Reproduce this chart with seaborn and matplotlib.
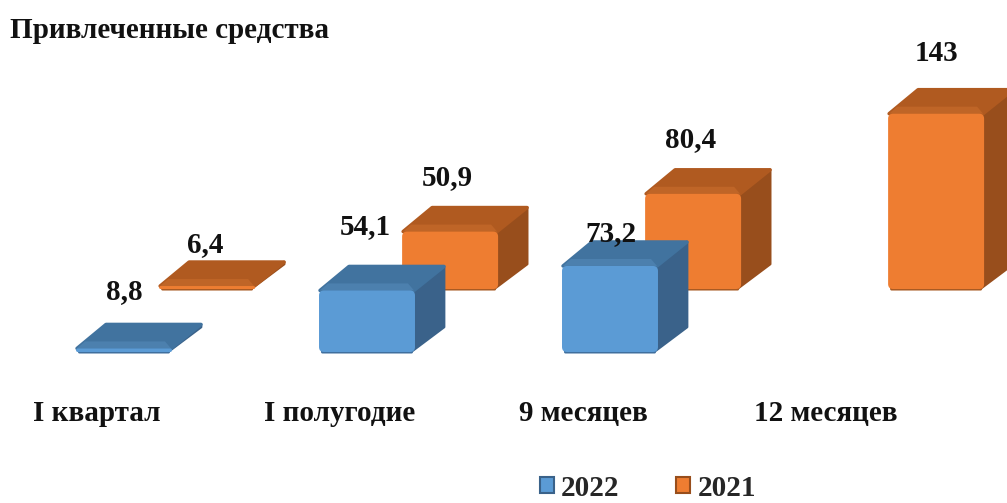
import matplotlib
matplotlib.use('Agg')
import matplotlib.pyplot as plt
import seaborn as sns
from matplotlib.patches import FancyBboxPatch, Polygon, Patch
from matplotlib.transforms import IdentityTransform

periods = ['I квартал', 'I полугодие', '9 месяцев', '12 месяцев']
values_2022 = [8.8, 54.1, 73.2]
values_2021 = [6.4, 50.9, 80.4, 143]
labels_2022 = ['8,8', '54,1', '73,2']
labels_2021 = ['6,4', '50,9', '80,4', '143']

# the axis of the original starts above zero, floor row of 2021 sits behind 2022
base = 6
shift_2021 = 49.2
offset_2021 = 0.342
bar_width = 0.395
tick_shift = -0.111
label_off_2022 = [(0, 57), (-2, 64), (1, 32)]
label_off_2021 = [(-2, 44), (-3, 54), (-3, 54), (0, 60)]

blue = dict(front='#5B9BD5', top='#41739F', bevel='#4C80AE', side='#3A628A', low='#3F6F9E')
orange = dict(front='#EE7D31', top='#B05A20', bevel='#BF6527', side='#984E1C', low='#A85A22')

sns.set_style('white')
plt.rcParams['font.family'] = ['Liberation Serif', 'DejaVu Serif']
plt.rcParams['font.weight'] = 'bold'

fig = plt.figure(figsize=(10.07, 5.03), dpi=100)
ax = fig.add_axes([0, 128 / 503, 1, 375 / 503])

x_2022 = [i for i in range(len(values_2022))]
x_2021 = [i + offset_2021 for i in range(len(values_2021))]
sns.barplot(x=x_2021, y=[v - base for v in values_2021], native_scale=True, width=bar_width,
            color=orange['front'], saturation=1, ax=ax)
bars_2021 = list(ax.patches)
sns.barplot(x=x_2022, y=[v - base for v in values_2022], native_scale=True, width=bar_width,
            color=blue['front'], saturation=1, ax=ax)
bars_2022 = list(ax.patches)[len(bars_2021):]

for b in bars_2021:
    b.set_y(base + shift_2021)
for b in bars_2022:
    b.set_y(base)

ax.set_xlim(-124 / 243, 883 / 243)
ax.set_ylim(base - 23 / 1.28, base + 352 / 1.28)
ax.set_xticks([i + tick_shift for i in range(len(periods))])
ax.set_xticklabels(periods, fontsize=21, fontweight='bold', color='#111111')
ax.set_yticks([])
ax.tick_params(axis='x', length=0, pad=18)
ax.set_xlabel('')
ax.set_ylabel('')
sns.despine(ax=ax, left=True, bottom=True)


def draw_box(bar, c, z):
    # turns the flat seaborn bar into a bevelled box, in pixels
    e = bar.get_window_extent()
    x0, x1, y0, y1 = e.x0, e.x1, e.y0, e.y1
    y1 = max(y1, y0 + 3)
    dx, dy = 30, 25
    kw = dict(transform=IdentityTransform(), zorder=z, clip_on=False, joinstyle='round')
    ax.add_patch(Polygon([(x1 - 3, y0 + 1), (x1 + dx - 1, y0 + dy), (x1 + dx - 1, y1 + dy - 1), (x1 - 3, y1)],
                         fc=c['side'], ec=c['side'], lw=2, **kw))
    ax.add_patch(Polygon([(x0 + 1, y1), (x0 + dx, y1 + dy - 1), (x1 + dx - 1, y1 + dy - 1), (x1 - 1, y1)],
                         fc=c['top'], ec=c['top'], lw=2.5, **kw))
    ax.add_patch(Polygon([(x0 + 1, y1), (x0 + 9, y1 + 7), (x1 - 7, y1 + 7), (x1 - 1, y1)],
                         fc=c['bevel'], ec='none', **kw))
    r = min(5, (y1 - y0) / 2)
    ax.add_patch(FancyBboxPatch((x0 + 2, y0 - 1.5), x1 - x0 - 4, 4, boxstyle='round,pad=0,rounding_size=1.5',
                                fc=c['low'], ec='none', **kw))
    ax.add_patch(FancyBboxPatch((x0, y0), x1 - x0, y1 - y0, boxstyle=f'round,pad=0,rounding_size={r}',
                                fc=c['front'], ec='none', **kw))
    bar.set_visible(False)


def put_labels(bars, labels, offs):
    for b, t, (ox, oy) in zip(bars, labels, offs):
        ax.annotate(t, (b.get_x() + b.get_width() / 2, b.get_y() + b.get_height()),
                    xytext=(ox, oy), textcoords='offset pixels', ha='center', va='center',
                    fontsize=21, fontweight='bold', color='#111111', zorder=10, annotation_clip=False)


for b in bars_2021:
    draw_box(b, orange, 3)
for b in bars_2022:
    draw_box(b, blue, 4)
put_labels(bars_2021, labels_2021, label_off_2021)
put_labels(bars_2022, labels_2022, label_off_2022)

fig.text(10 / 1007, 1 - 31 / 503, 'Привлеченные средства', fontsize=21, fontweight='bold',
         color='#111111', va='center', ha='left')

handles = [Patch(fc=blue['front'], ec=blue['side'], lw=1.5, label='2022'),
           Patch(fc=orange['front'], ec=orange['side'], lw=1.5, label='2021')]
fig.legend(handles=handles, ncol=2, frameon=False, loc='center', bbox_to_anchor=(648 / 1007, 1 - 488 / 503),
           prop=dict(family='Liberation Serif', weight='bold', size=21), handlelength=0.48, handleheight=0.5,
           handletextpad=0.25, columnspacing=1.95, borderaxespad=0, borderpad=0)

fig.savefig('out.png', dpi=100)
